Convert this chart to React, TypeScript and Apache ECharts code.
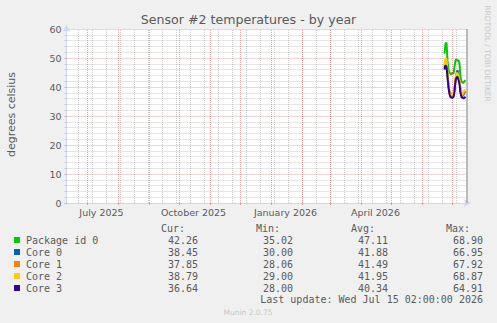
import React, { useEffect, useRef } from 'react';
import * as echarts from 'echarts';

// ---- data ----
const seriesNames = ['Package id 0', 'Core 0', 'Core 1', 'Core 2', 'Core 3'];
const seriesColors = ['#00cc00', '#0066b3', '#ff8000', '#ffcc00', '#330099'];

const days = [
  '2026-06-23', '2026-06-24', '2026-06-25', '2026-06-26', '2026-06-27', '2026-06-28',
  '2026-06-29', '2026-06-30', '2026-07-01', '2026-07-02', '2026-07-03', '2026-07-04',
  '2026-07-05', '2026-07-06', '2026-07-07', '2026-07-08', '2026-07-09', '2026-07-10',
  '2026-07-11', '2026-07-12', '2026-07-13', '2026-07-14',
];

const packageId0 = [51.5, 55, 55.3, 49, 46, 45, 44.5, 44.5, 45, 44.5, 47, 49.3, 49.5, 49, 49.3, 48, 43.5, 42, 41.5, 41.5, 42, 42.3];
const core0 = [46.5, 48.5, 48, 44, 40, 38, 37.3, 37, 36.8, 37, 39, 42.5, 44.5, 45.8, 44.3, 42.5, 39, 37, 36.8, 37.3, 38, 38.45];
const core1 = [47, 49, 48.5, 44.5, 40.5, 38.5, 38, 37.5, 37, 37, 39, 42.5, 44, 45, 44, 42, 39, 37, 37, 38, 38.5, 37.85];
const core2 = [47.5, 50, 49.5, 45, 41, 38.5, 37.5, 37.5, 37, 37.5, 39.5, 43, 44.5, 44.8, 44, 42.5, 39.5, 37.5, 37.5, 38.5, 39, 38.8];
const core3 = [46, 47.5, 47, 43.5, 40, 37.5, 36.5, 36.3, 36.3, 36.5, 38.5, 42, 43.3, 43.5, 42.5, 41, 38, 36.5, 36.3, 36, 36.3, 36.64];
const seriesValues = [packageId0, core0, core1, core2, core3];

const curValues = ['42.26', '38.45', '37.85', '38.79', '36.64'];
const minValues = ['35.02', '30.00', '28.06', '29.00', '28.00'];
const avgValues = ['47.11', '41.88', '41.49', '41.95', '40.34'];
const maxValues = ['68.90', '66.95', '67.92', '68.87', '64.91'];

const xLabelDates = ['2025-07-15', '2025-10-15', '2026-01-15', '2026-04-15'];
const xLabelTexts = ['July 2025', 'October 2025', 'January 2026', 'April 2026'];

const titleText = 'Sensor #2 temperatures - by year';
const yAxisTitle = 'degrees celsius';
const lastUpdate = 'Last update: Wed Jul 15 02:00:00 2026';
const sideText = 'RRDTOOL / TOBI OETIKER';
const footerText = 'Munin 2.0.75';

const DAY = 86400000;
const START = Date.UTC(2025, 5, 10, 2);
const END = Date.UTC(2026, 6, 15, 2);

const monthStarts: number[] = [];
for (let m = 6; m <= 18; m++) monthStarts.push(Date.UTC(2025, m, 1));
const biWeekly: number[] = [];
for (let t = Date.UTC(2026, 6, 5); t > START; t -= 14 * DAY) biWeekly.push(t);
const labelValues = xLabelDates.map((d) => Date.parse(d + 'T00:00:00Z'));

const SANS = 'DejaVu Sans';
const MONO = 'DejaVu Sans Mono';
const FONT_COLOR = '#5a5a5a';
const MGRID = 'rgba(222,79,79,0.5)';
const GRID = 'rgba(143,143,143,0.45)';

export default function App() {
  const ref = useRef<HTMLDivElement>(null);
  useEffect(() => {
    document.body.style.margin = '0';
    if (!ref.current) return;
    const chart = echarts.init(ref.current, null, { renderer: 'svg' });

    const legendGraphics: any[] = [];
    const headerY = 228;
    const colRight = [198, 293, 388, 483];
    ['Cur:', 'Min:', 'Avg:', 'Max:'].forEach((h, i) => {
      legendGraphics.push({
        type: 'text', x: colRight[i] - 13, y: headerY, silent: true,
        style: { text: h, fill: FONT_COLOR, fontSize: 10, fontFamily: MONO, textAlign: 'right', textVerticalAlign: 'middle' },
      });
    });
    seriesNames.forEach((name, i) => {
      const y = 240 + i * 12;
      legendGraphics.push({
        type: 'rect', shape: { x: 14, y: y - 3, width: 6, height: 6 }, silent: true,
        style: { fill: seriesColors[i] },
      });
      legendGraphics.push({
        type: 'text', x: 26, y, silent: true,
        style: { text: name, fill: FONT_COLOR, fontSize: 10, fontFamily: MONO, textAlign: 'left', textVerticalAlign: 'middle' },
      });
      [curValues, minValues, avgValues, maxValues].forEach((arr, c) => {
        legendGraphics.push({
          type: 'text', x: colRight[c], y, silent: true,
          style: { text: arr[i], fill: FONT_COLOR, fontSize: 10, fontFamily: MONO, textAlign: 'right', textVerticalAlign: 'middle' },
        });
      });
    });
    legendGraphics.push({
      type: 'text', x: 483, y: 299.5, silent: true,
      style: { text: lastUpdate, fill: FONT_COLOR, fontSize: 10, fontFamily: MONO, textAlign: 'right', textVerticalAlign: 'middle' },
    });

    const markLineSeries = (values: number[], color: string, type: any, width: number) => ({
      type: 'line', data: [], silent: true, z: 1,
      markLine: {
        silent: true, symbol: ['none', 'none'], label: { show: false },
        lineStyle: { color, type, width },
        emphasis: { disabled: true },
        data: values.map((v) => ({ xAxis: v })),
      },
    });

    const option: any = {
      animation: false,
      backgroundColor: '#f0f0f0',
      textStyle: { fontFamily: SANS },
      grid: { left: 66.583, top: 29, width: 400, height: 174, show: true, backgroundColor: '#ffffff', borderWidth: 0 },
      xAxis: {
        type: 'value', min: START, max: END,
        axisLine: {
          show: true, lineStyle: { color: '#cfd6f8', width: 1 },
          symbol: ['none', 'arrow'], symbolSize: [6, 7], symbolOffset: [0, 4],
        },
        axisTick: { show: true, customValues: monthStarts, length: 2, lineStyle: { color: MGRID } },
        axisLabel: {
          customValues: labelValues,
          formatter: (v: number) => {
            const idx = labelValues.indexOf(v);
            return idx >= 0 ? xLabelTexts[idx] : '';
          },
          color: FONT_COLOR, fontSize: 9.5, fontFamily: SANS, margin: 4,
        },
        splitLine: { show: false },
      },
      yAxis: {
        type: 'value', min: 0, max: 60, interval: 10,
        axisLine: {
          show: true, lineStyle: { color: '#cfd6f8', width: 1 },
          symbol: ['none', 'arrow'], symbolSize: [6, 7], symbolOffset: [0, 4],
        },
        axisTick: { show: true, length: 2, lineStyle: { color: MGRID } },
        minorTick: { show: true, splitNumber: 5, length: 2, lineStyle: { color: GRID } },
        axisLabel: { color: FONT_COLOR, fontSize: 9.5, fontFamily: SANS, margin: 5 },
        splitLine: { show: true, lineStyle: { color: MGRID, type: [1, 1], width: 1 } },
        minorSplitLine: { show: true, lineStyle: { color: GRID, type: [1, 1], width: 1 } },
      },
      series: [
        markLineSeries(biWeekly, GRID, [1, 1], 1),
        markLineSeries(monthStarts, MGRID, [1, 1], 1),
        markLineSeries([END], '#a8a8a8', 'solid', 1.5),
        ...seriesNames.map((name, i) => ({
          type: 'line', name, z: 3 + i,
          data: days.map((d, j) => [Date.parse(d + 'T00:00:00Z'), seriesValues[i][j]]),
          symbol: 'none', showSymbol: false,
          lineStyle: { width: 2, color: seriesColors[i] },
          itemStyle: { color: seriesColors[i] },
        })),
      ],
      graphic: [
        {
          type: 'text', x: 248.5, y: 19, silent: true,
          style: { text: titleText, fill: FONT_COLOR, fontSize: 12.6, fontFamily: SANS, textAlign: 'center', textVerticalAlign: 'middle' },
        },
        {
          type: 'text', x: 11, y: 114.5, rotation: Math.PI / 2, silent: true,
          style: { text: yAxisTitle, fill: FONT_COLOR, fontSize: 11, fontFamily: SANS, textAlign: 'center', textVerticalAlign: 'middle' },
        },
        {
          type: 'text', x: 487.5, y: 53.5, rotation: -Math.PI / 2, silent: true,
          style: { text: sideText, fill: '#c8c8c8', fontSize: 7.5, fontFamily: SANS, textAlign: 'center', textVerticalAlign: 'middle' },
        },
        {
          type: 'text', x: 248, y: 312.5, silent: true,
          style: { text: footerText, fill: '#c8c8c8', fontSize: 7.5, fontFamily: SANS, textAlign: 'center', textVerticalAlign: 'middle' },
        },
        ...legendGraphics,
      ],
    };
    chart.setOption(option);
    return () => chart.dispose();
  }, []);
  return <div ref={ref} style={{ width: 497, height: 323 }} />;
}
